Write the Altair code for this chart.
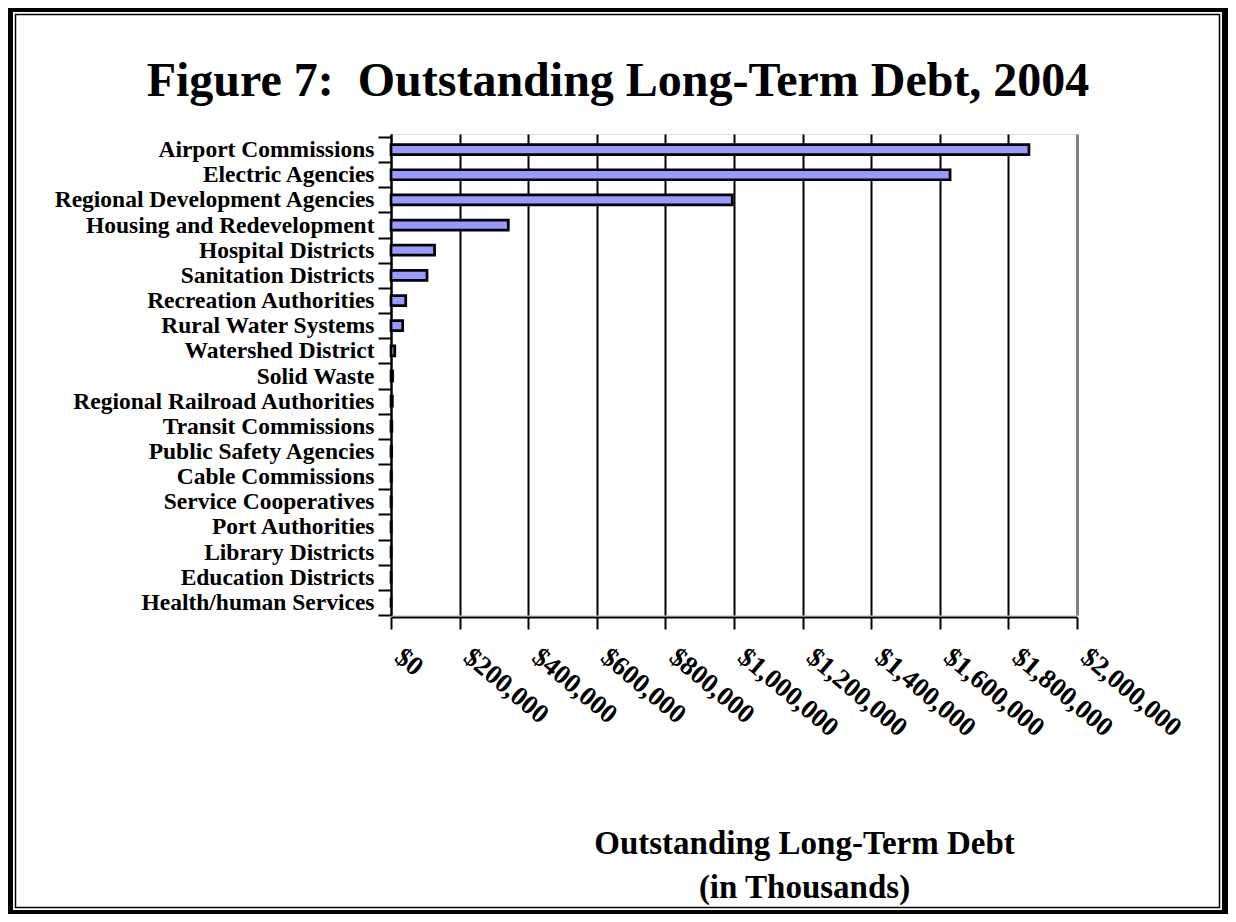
import altair as alt
import pandas as pd

categories = [
    "Airport Commissions", "Electric Agencies", "Regional Development Agencies",
    "Housing and Redevelopment", "Hospital Districts", "Sanitation Districts",
    "Recreation Authorities", "Rural Water Systems", "Watershed District",
    "Solid Waste", "Regional Railroad Authorities", "Transit Commissions",
    "Public Safety Agencies", "Cable Commissions", "Service Cooperatives",
    "Port Authorities", "Library Districts", "Education Districts",
    "Health/human Services",
]
debt = [1860000, 1630000, 995000, 342000, 127000, 105000, 43000, 34000, 11000,
        5000, 4000, 2500, 2000, 1000, 600, 300, 150, 50, 0]
tick_values = [0, 200000, 400000, 600000, 800000, 1000000, 1200000, 1400000,
               1600000, 1800000, 2000000]

FONT = "Liberation Serif"
W, H = 686, 481
PAD = {"left": 383, "top": 126, "right": 151, "bottom": 299}

df = pd.DataFrame({"category": categories, "debt": debt})
one = pd.DataFrame({"a": [0]})

# decorative double frame around the page
def band(x1, x2, y1, y2):
    return alt.Chart(one).mark_rect(color="black").encode(
        x=alt.value(x1), x2=alt.value(x2), y=alt.value(y1), y2=alt.value(y2))

L, T = -PAD["left"], -PAD["top"]
R, B = W + PAD["right"], H + PAD["bottom"]
frame = [
    band(L, L + 5, T, B),
    band(L, R, T, T + 4),
    band(R - 6, R, T, B),
    band(L, R, B - 4, B),
    alt.Chart(one).mark_rect(fill="transparent", stroke="black", strokeWidth=1.5).encode(
        x=alt.value(L + 7.5), x2=alt.value(R - 8.5), y=alt.value(T + 6.5), y2=alt.value(B - 6.5)),
]

bars = alt.Chart(df).mark_bar(
    color="#9999FF", stroke="black", strokeWidth=2.7, size=10
).encode(
    x=alt.X(
        "debt:Q",
        scale=alt.Scale(domain=[0, 2000000], nice=False),
        axis=alt.Axis(
            values=tick_values,
            labelExpr="'$' + format(datum.value, ',')",
            grid=True,
            gridColor={"condition": {"test": "datum.value >= 2000000", "value": "#808080"}, "value": "black"},
            gridWidth={"condition": {"test": "datum.value >= 2000000", "value": 3}, "value": 2},
            gridOpacity=1,
            domainColor="black", domainWidth=2, offset=2,
            tickColor="black", tickWidth=2, tickSize=12,
            labelAngle=40, labelAlign="left", labelBaseline="middle",
            labelFont=FONT, labelFontSize=27, labelFontWeight="bold",
            labelColor="black", labelPadding=24, labelOffset=7,
            labelOverlap=False, labelLimit=400, labelBound=False, labelFlush=False,
            title=["Outstanding Long-Term Debt", "(in Thousands)"],
            titleFont=FONT, titleFontSize=33, titleFontWeight="bold",
            titleColor="black", titleLineHeight=44,
            titleX=413, titleY=236, titleAlign="center", titleBaseline="alphabetic",
        ),
    ),
    y=alt.Y(
        "category:N", sort=categories,
        scale=alt.Scale(paddingInner=0, paddingOuter=0.06, align=1),
        axis=alt.Axis(
            title=None, tickBand="extent",
            domainColor="black", domainWidth=2,
            tickColor="black", tickWidth=2, tickSize=13,
            labelPadding=4, labelFont=FONT, labelFontSize=23.5,
            labelFontWeight="bold", labelColor="black", labelLimit=500,
        ),
    ),
)

chart = alt.layer(*frame, bars).properties(
    width=W, height=H,
    autosize=alt.AutoSizeParams(type="none"),
    padding=PAD,
    title=alt.TitleParams(
        text="Figure 7:\u00a0 Outstanding Long-Term Debt, 2004",
        font=FONT, fontSize=48, fontWeight="bold", color="black",
        anchor="middle", dx=-116, offset=0, dy=136, baseline="alphabetic",
    ),
).configure_view(stroke="#808080", strokeWidth=2.5).configure(background="white")

chart.save("out.html", embed_options={"renderer": "svg", "actions": False})
